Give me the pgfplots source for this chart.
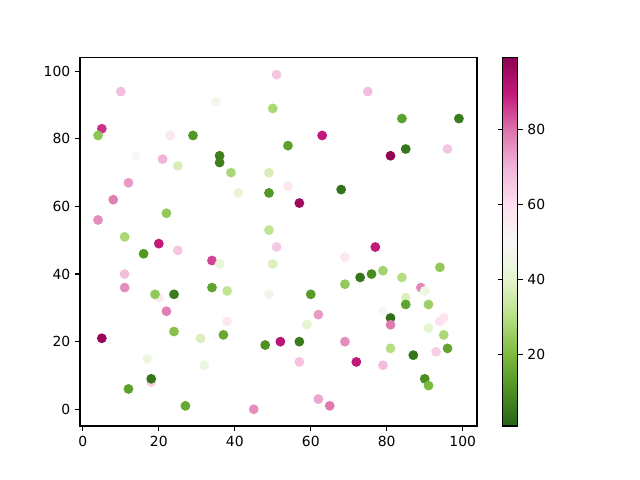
\documentclass[border=0pt]{standalone}
\usepackage{fontspec}
\setmainfont{DejaVu Sans}
\usepackage{pgfplots}
\pgfplotsset{compat=1.18}
\begin{document}
\begin{tikzpicture}
\useasboundingbox (0,0) rectangle (460.8pt,345.6pt);
\begin{axis}[
  at={(57.6pt,38.9pt)}, anchor=south west,
  scale only axis, width=285.8pt, height=265pt,
  xmin=-0.75, xmax=103.75, ymin=-4.95, ymax=103.95,
  xtick={0,20,40,60,80,100}, ytick={0,20,40,60,80,100},
  tick align=outside, xtick pos=bottom, ytick pos=left,
  major tick length=3.5pt,
  every tick/.style={black, line width=0.8pt},
  axis line style={line width=0.8pt},
  tick label style={font=\fontsize{10}{12}\selectfont},
  /pgf/number format/assume math mode=true,
  colormap={piygr}{rgb255=(39,100,25) rgb255=(77,146,33) rgb255=(127,188,65) rgb255=(184,225,134) rgb255=(230,245,208) rgb255=(247,247,247) rgb255=(253,224,239) rgb255=(241,182,218) rgb255=(222,119,174) rgb255=(197,27,125) rgb255=(142,1,82)},
  point meta min=1, point meta max=99,
  colorbar,
  colorbar style={
    at={(parent axis.north east)}, anchor=north west, xshift=10pt,
    width=10.8pt, height=265pt, scale only axis,
    ytick={20,40,60,80}, tick align=outside, major tick length=3.5pt,
    every tick/.style={black, line width=0.8pt},
    axis line style={line width=0.8pt},
    tick label style={font=\fontsize{10}{12}\selectfont},
    /pgf/number format/assume math mode=true,
  },
]
\addplot[scatter, only marks, mark=*, mark size=3pt, line width=1pt, scatter src=explicit,
  scatter/use mapped color={draw=mapped color, fill=mapped color}]
table[meta=c] {
x y c
10 94 68
5 83 87
4 81 23
23 81 57
29 81 12
14 75 50
21 74 70
25 72 37
12 67 74
35 91 47
51 99 66
50 89 28
63 81 90
54 78 14
36 75 7
36 73 7
39 70 28
49 70 37
54 66 58
75 94 68
84 86 14
99 86 6
85 77 5
81 75 98
96 77 66
8 62 78
22 58 24
4 56 76
11 51 28
20 49 90
16 46 12
25 47 66
34 44 85
11 40 68
11 36 76
20 33 56
19 34 24
24 34 6
34 36 15
41 64 42
49 64 12
68 65 4
57 61 96
49 53 32
51 48 65
36 43 42
50 43 38
69 45 57
38 35 32
49 34 46
60 34 13
69 37 24
77 48 90
94 42 24
79 41 27
76 40 10
73 39 5
84 39 30
89 36 77
90 35 44
85 33 38
85 31 15
91 31 26
22 29 78
24 23 22
5 21 97
31 21 38
17 15 44
32 13 44
18 8 64
18 9 5
12 6 14
27 1 16
38 26 57
37 22 16
48 19 11
52 20 91
57 20 6
59 25 40
62 28 74
57 14 67
45 0 76
62 3 72
65 1 79
69 20 76
72 14 90
79 13 68
79 29 50
81 27 3
81 25 79
81 18 30
87 16 5
94 26 60
95 27 58
91 24 40
95 22 28
96 18 15
93 17 64
90 9 10
91 7 20
};
\end{axis}
\end{tikzpicture}
\end{document}
